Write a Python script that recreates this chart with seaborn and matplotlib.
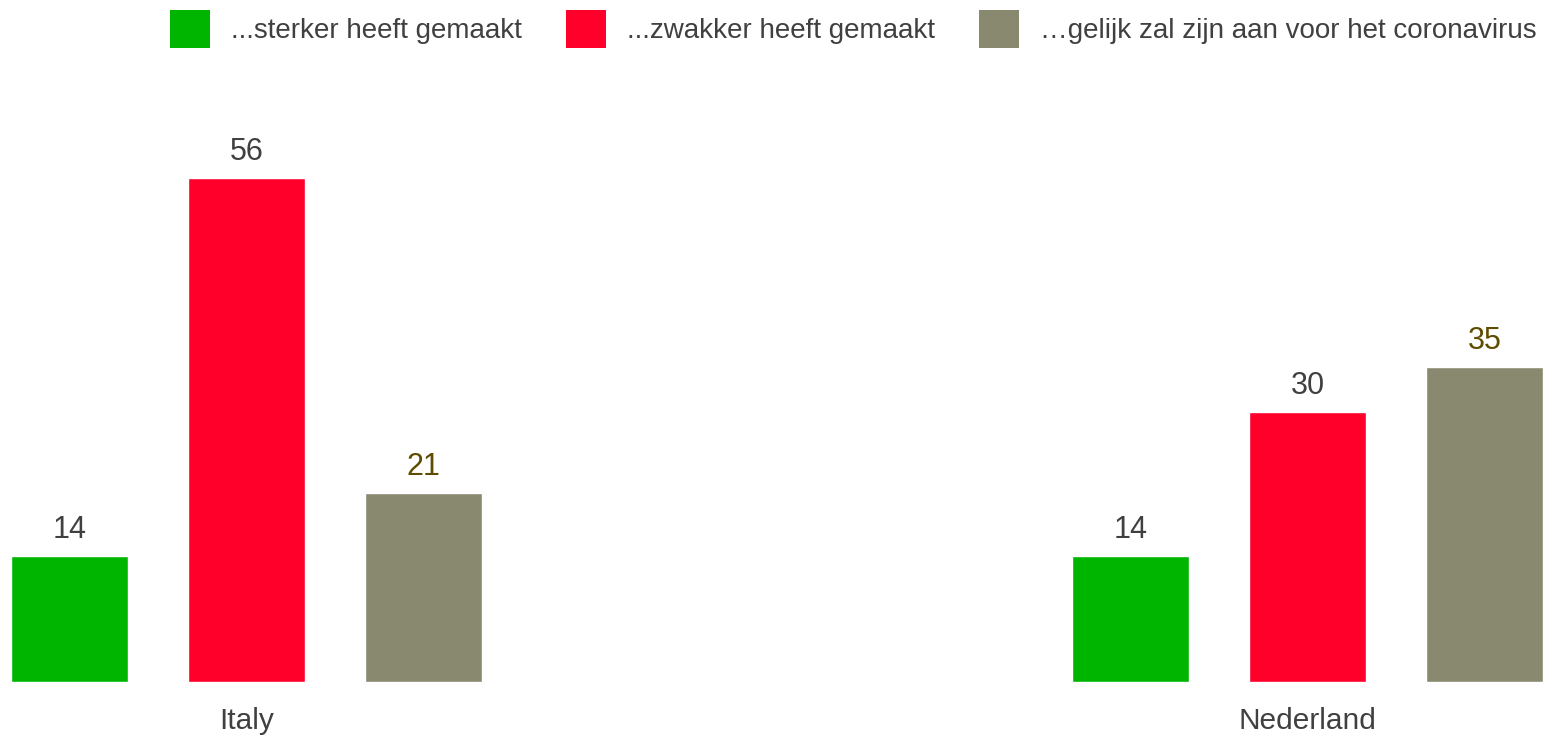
import pandas as pd
import matplotlib.pyplot as plt
import seaborn as sns
from matplotlib.patches import Patch

# ------------------------------
# Data
# ------------------------------
countries = ["Italy", "Nederland"]
answers = ["...sterker heeft gemaakt",
           "...zwakker heeft gemaakt",
           "\u2026gelijk zal zijn aan voor het coronavirus"]
stronger = [14, 14]
weaker = [56, 30]
same = [21, 35]

colors = ["#00B500", "#FF002B", "#898970"]
label_colors = ["#404040", "#404040", "#5E4D00"]

rows = []
for ans, vals in zip(answers, [stronger, weaker, same]):
    for c, v in zip(countries, vals):
        rows.append({"country": c, "answer": ans, "value": v})
df = pd.DataFrame(rows)

# ------------------------------
# Plot
# ------------------------------
sns.set_style("white")
plt.rcParams["font.family"] = ["Liberation Sans", "DejaVu Sans"]

fig = plt.figure(figsize=(15.52, 7.36), dpi=100)
ax = fig.add_axes([0, 54 / 736, 1, 582 / 736])

sns.barplot(data=df, x="country", y="value", hue="answer",
            hue_order=answers, palette=colors, width=0.5005, gap=0.34,
            legend=False, ax=ax, saturation=1)

for cont, lc in zip(ax.containers, label_colors):
    ax.bar_label(cont, color=lc, fontsize=22, padding=8)

ax.set_xlim(-0.2323, 1.2305)
ax.set_ylim(0, 582 / 9.0)
ax.set_xlabel("")
ax.set_ylabel("")
ax.set_yticks([])
ax.tick_params(axis="x", length=0, pad=18, labelsize=21.5, labelcolor="#404040")
sns.despine(ax=ax, left=True, bottom=True)

handles = [Patch(facecolor=c, edgecolor="none") for c in colors]
fig.legend(handles, answers, loc="upper left",
           bbox_to_anchor=(170 / 1552, 1 - 10 / 736), ncol=3, frameon=False,
           fontsize=20, labelcolor="#404040", handlelength=1.44,
           handleheight=1.75, handletextpad=0.75, columnspacing=1.6,
           borderpad=0, borderaxespad=0)

fig.savefig("out.png", dpi=100)
